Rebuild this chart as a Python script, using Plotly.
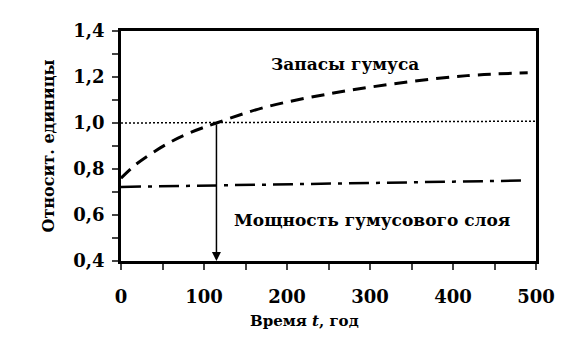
import plotly.graph_objects as go

t_humus = [0, 18, 54, 82, 115, 175, 256, 336, 417, 490]
v_humus = [0.76, 0.82, 0.906, 0.956, 1.0, 1.07, 1.13, 1.174, 1.206, 1.218]

t_layer = [0, 100, 200, 300, 400, 490]
v_layer = [0.722, 0.727, 0.733, 0.739, 0.745, 0.750]

t_ref = [0, 500]
v_ref = [1.0, 1.008]

t_cross = 115

x_ticks = [0, 100, 200, 300, 400, 500]
x_labels = ["0", "100", "200", "300", "400", "500"]
y_ticks = [0.4, 0.6, 0.8, 1.0, 1.2, 1.4]
y_labels = ["0,4", "0,6", "0,8", "1,0", "1,2", "1,4"]

font = "DejaVu Serif"

fig = go.Figure()
fig.add_trace(go.Scatter(x=t_ref, y=v_ref, mode="lines",
                         line=dict(color="black", width=1.5, dash="2px,2px"), showlegend=False))
fig.add_trace(go.Scatter(x=t_humus, y=v_humus, mode="lines", line_shape="spline",
                         line=dict(color="black", width=3, dash="13px,8px"), showlegend=False))
fig.add_trace(go.Scatter(x=t_layer, y=v_layer, mode="lines",
                         line=dict(color="black", width=2.5, dash="20px,7px,4px,7px"), showlegend=False))

fig.add_annotation(x=t_cross, y=0.4, ax=t_cross, ay=1.0, xref="x", yref="y", axref="x", ayref="y",
                   showarrow=True, arrowhead=2, arrowsize=1.2, arrowwidth=1.5, arrowcolor="black", text="")
fig.add_annotation(x=270, y=1.258, text="Запасы гумуса", showarrow=False,
                   font=dict(family=font, size=17, color="black", weight="bold"))
fig.add_annotation(x=302, y=0.58, text="Мощность гумусового слоя", showarrow=False,
                   font=dict(family=font, size=17, color="black", weight="bold"))
fig.add_annotation(x=0.443, y=-0.262, xref="paper", yref="paper", text="Время <i>t</i>, год",
                   showarrow=False, yanchor="middle",
                   font=dict(family=font, size=15, color="black", weight="bold"))

fig.update_xaxes(range=[0, 500], tickvals=x_ticks, ticktext=x_labels, ticks="outside", ticklen=6,
                 tickwidth=2, showline=True, linewidth=2.5, linecolor="black", mirror=True,
                 showgrid=False, zeroline=False, ticklabelstandoff=12,
                 minor=dict(ticks="outside", ticklen=6, tickwidth=2, dtick=50, showgrid=False),
                 tickfont=dict(family=font, size=18, color="black", weight="bold"))
fig.update_yaxes(range=[0.4, 1.4], tickvals=y_ticks, ticktext=y_labels, ticks="outside", ticklen=6,
                 tickwidth=2, showline=True, linewidth=2.5, linecolor="black", mirror=True,
                 showgrid=False, zeroline=False, ticklabelstandoff=4,
                 minor=dict(ticks="outside", ticklen=6, tickwidth=2, dtick=0.1, showgrid=False),
                 title=dict(text="Относит. единицы", font=dict(family=font, size=16, color="black", weight="bold"), standoff=15),
                 tickfont=dict(family=font, size=18, color="black", weight="bold"))

fig.update_layout(width=570, height=345, margin=dict(l=113, r=42, t=14, b=92),
                  plot_bgcolor="white", paper_bgcolor="white", font=dict(family=font))
fig.write_html("out.html")
